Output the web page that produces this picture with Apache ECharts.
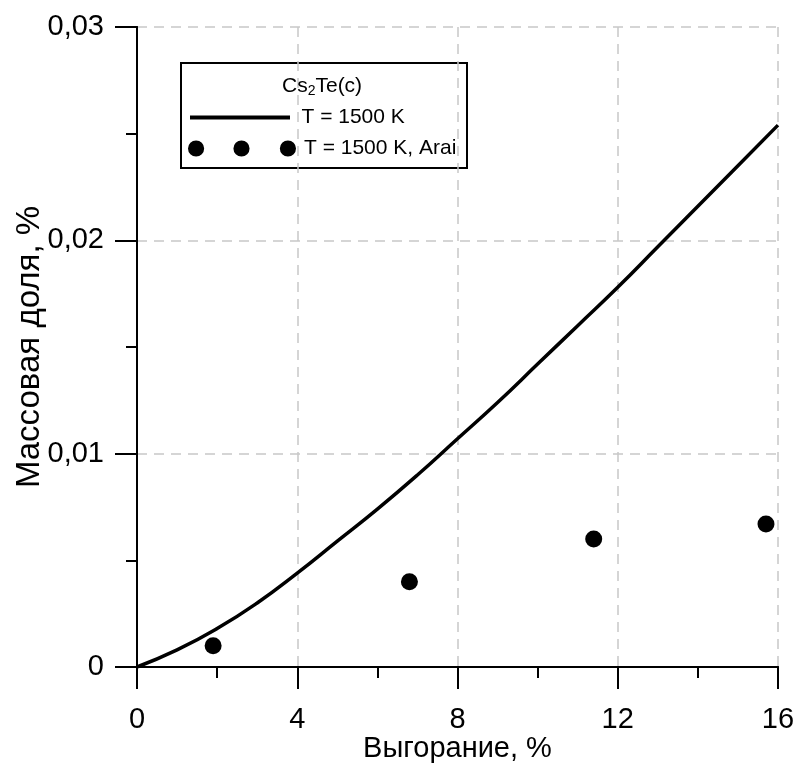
<!DOCTYPE html>
<html>
<head>
<meta charset="utf-8">
<script src="https://cdn.jsdelivr.net/npm/echarts@6/dist/echarts.min.js"></script>
<style>html,body{margin:0;padding:0;background:#fff}#c{width:797px;height:764px}</style>
</head>
<body>
<div id="c"></div>
<script>
// Model curve: burnup (%) vs mass fraction (%)
const curveX = [0, 1, 2, 3, 4, 5, 6, 7, 8, 9, 10, 11, 12, 13, 14, 15, 16];
const curveY = [0, 0.0008, 0.0018, 0.0030, 0.0044, 0.0059, 0.0074, 0.0090, 0.0107, 0.0124, 0.0142, 0.0160, 0.0178, 0.0197, 0.0216, 0.0235, 0.0254];
// Arai experimental points
const araiX = [1.9, 6.8, 11.4, 15.7];
const araiY = [0.001, 0.004, 0.006, 0.0067];
const xTicks = [0, 4, 8, 12, 16];
const yTicks = [0, 0.01, 0.02, 0.03];
const seriesNames = ['T = 1500 K', 'T = 1500 K, Arai'];

const FONT = 'Liberation Sans, Arial, sans-serif';
const chart = echarts.init(document.getElementById('c'));
const axisLine = {show: true, lineStyle: {color: '#000', width: 2}};
const split = {show: true, lineStyle: {color: '#c8c8c8', type: [10, 7], width: 1.5}};
chart.setOption({
  animation: false,
  backgroundColor: '#fff',
  grid: {left: 137, right: 19, top: 27, bottom: 97, containLabel: false, outerBoundsMode: 'none'},
  xAxis: [{
    type: 'value', min: xTicks[0], max: xTicks[xTicks.length - 1], interval: 4,
    axisLine: axisLine,
    axisTick: {show: true, length: 22, lineStyle: {color: '#000', width: 2}},
    minorTick: {show: true, splitNumber: 2, length: 11, lineStyle: {color: '#000', width: 2}},
    splitLine: split,
    axisLabel: {color: '#000', fontSize: 29, fontFamily: FONT, margin: 38},
    name: 'Выгорание, %', nameLocation: 'middle', nameGap: 67, nameMoveOverlap: false,
    nameTextStyle: {color: '#000', fontSize: 29, fontFamily: FONT}
  }, {
    type: 'value', position: 'top', min: 0, max: 16,
    axisLine: axisLine, axisTick: {show: false}, axisLabel: {show: false}, splitLine: {show: false}
  }],
  yAxis: [{
    type: 'value', min: yTicks[0], max: yTicks[yTicks.length - 1], interval: 0.01,
    axisLine: axisLine,
    axisTick: {show: true, length: 22, lineStyle: {color: '#000', width: 2}},
    minorTick: {show: true, splitNumber: 2, length: 11, lineStyle: {color: '#000', width: 2}},
    splitLine: split,
    axisLabel: {color: '#000', fontSize: 29, fontFamily: FONT, margin: 33, padding: [5, 0, 0, 0],
      formatter: v => v === 0 ? '0' : v.toFixed(2).replace('.', ',')},
    name: 'Массовая доля, %', nameLocation: 'middle', nameGap: 91, nameMoveOverlap: false,
    nameTextStyle: {color: '#000', fontSize: 33, fontFamily: FONT}
  }, {
    type: 'value', position: 'right', min: 0, max: 0.03,
    axisLine: axisLine, axisTick: {show: false}, axisLabel: {show: false}, splitLine: {show: false}
  }],
  legend: [{
    data: [seriesNames[0]], left: 190, top: 107, padding: 0, selectedMode: false,
    icon: 'path://M0,0H100V4H0Z', itemWidth: 103, itemHeight: 4,
    textStyle: {color: '#000', fontSize: 21, fontFamily: FONT, padding: [0, 0, 0, 5]}
  }, {
    data: [seriesNames[1]], left: 188, top: 138, padding: 0, selectedMode: false,
    icon: 'path://M0,8a8,8 0 1,0 16,0a8,8 0 1,0 -16,0zM45,8a8,8 0 1,0 16,0a8,8 0 1,0 -16,0zM91,8a8,8 0 1,0 16,0a8,8 0 1,0 -16,0z',
    itemWidth: 108, itemHeight: 17, itemStyle: {opacity: 1},
    textStyle: {color: '#000', fontSize: 21, fontFamily: FONT, padding: [0, 0, 0, 3]}
  }],
  graphic: [{
    type: 'rect', left: 180, top: 62, z: 0,
    shape: {width: 286, height: 105},
    style: {fill: '#fff', stroke: '#000', lineWidth: 2}
  }, {
    type: 'text', left: 282, top: 76, z: 10,
    style: {
      text: 'Cs{sub|2}Te(c)',
      fill: '#000', font: '21px ' + FONT,
      rich: {sub: {fontSize: 14, fontFamily: FONT, fill: '#000', verticalAlign: 'bottom', padding: [10, 0, 0, 0]}}
    }
  }],
  series: [{
    name: seriesNames[0], type: 'line', showSymbol: false, smooth: 0.5,
    data: curveX.map((x, i) => [x, curveY[i]]),
    lineStyle: {color: '#000', width: 3.5}, itemStyle: {color: '#000'}, z: 5
  }, {
    name: seriesNames[1], type: 'scatter', symbol: 'circle', symbolSize: 17,
    data: araiX.map((x, i) => [x, araiY[i]]),
    itemStyle: {color: '#000', opacity: 1}, z: 6
  }]
});
</script>
</body>
</html>
